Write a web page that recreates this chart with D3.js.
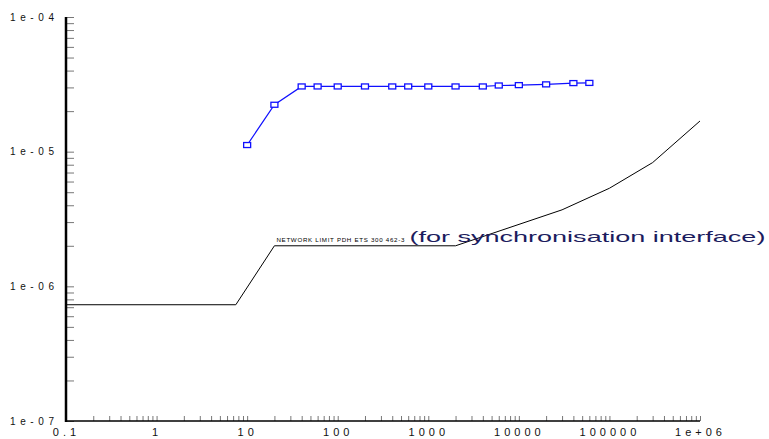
<!DOCTYPE html>
<html>
<head>
<meta charset="utf-8">
<script src="https://cdn.jsdelivr.net/npm/d3@7"></script>
<style>
  body { margin: 0; background: #fff; }
  svg { display: block; font-family: Arial, "Liberation Sans", sans-serif; }
</style>
</head>
<body>
<svg id="chart" width="769" height="439"></svg>
<script>
// network limit (black line)
var limitTau = [0.1, 7.5, 20, 2000, 30000, 100000, 300000, 1000000];
var limitMtie = [7.3e-7, 7.3e-7, 2.0e-6, 2.0e-6, 3.7e-6, 5.35e-6, 8.3e-6, 1.69e-5];

// measured series (blue squares)
var measTau = [10, 20, 40, 60, 100, 200, 400, 600, 1000, 2000, 4000, 6000, 10000, 20000, 40000, 60000];
var measMtie = [1.12e-5, 2.23e-5, 3.05e-5, 3.05e-5, 3.05e-5, 3.05e-5, 3.05e-5, 3.05e-5, 3.05e-5,
                3.05e-5, 3.05e-5, 3.1e-5, 3.12e-5, 3.16e-5, 3.23e-5, 3.24e-5];

// tick labels
var xTickValues = [0.1, 1, 10, 100, 1000, 10000, 100000, 1000000];
var xTickLabels = ["0.1", "1", "10", "100", "1000", "10000", "100000", "1e+06"];
var yTickValues = [1e-7, 1e-6, 1e-5, 1e-4];
var yTickLabels = ["1e-07", "1e-06", "1e-05", "1e-04"];

var limitLabel = "NETWORK LIMIT PDH ETS 300 462-3";
var limitNote = "(for synchronisation interface)";

var drawChart = function() {
  var svg = d3.select("#chart");
  var plotLeft = 66, plotRight = 700, plotTop = 17, plotBottom = 421;

  var x = d3.scaleLog().domain([0.1, 1e6]).range([plotLeft, plotRight]);
  var y = d3.scaleLog().domain([1e-7, 1e-4]).range([plotBottom, plotTop]);

  var labelFor = function(values, labels) {
    return function(d) {
      var i = values.findIndex(function(v) { return Math.abs(Math.log10(v) - Math.log10(d)) < 1e-6; });
      return i < 0 ? "" : labels[i];
    };
  };

  // x axis, ticks pointing up
  var xAxis = svg.append("g")
    .attr("transform", "translate(0," + plotBottom + ")")
    .call(d3.axisBottom(x)
      .tickValues(x.ticks())
      .tickSizeInner(-5).tickSizeOuter(0).tickPadding(7)
      .tickFormat(labelFor(xTickValues, xTickLabels)));
  xAxis.select(".domain").remove();
  xAxis.selectAll(".tick line").attr("stroke", "#777");
  xAxis.selectAll(".tick text")
    .attr("font-size", 11).attr("fill", "#111")
    .attr("font-family", "Arial, 'Liberation Sans', sans-serif")
    .attr("letter-spacing", 4);

  // y axis, ticks pointing right
  var yAxis = svg.append("g")
    .attr("transform", "translate(" + plotLeft + ",0)")
    .call(d3.axisLeft(y)
      .tickValues(y.ticks())
      .tickSizeInner(-8).tickSizeOuter(0).tickPadding(8)
      .tickFormat(labelFor(yTickValues, yTickLabels)));
  yAxis.select(".domain").remove();
  yAxis.selectAll(".tick line").attr("stroke", "#777");
  yAxis.selectAll(".tick text")
    .attr("font-size", 10).attr("fill", "#111")
    .attr("font-family", "Arial, 'Liberation Sans', sans-serif")
    .attr("text-anchor", "start")
    .attr("letter-spacing", 4.6)
    .attr("x", -56);

  // axis lines
  svg.append("line")
    .attr("x1", plotLeft).attr("x2", plotRight).attr("y1", plotBottom).attr("y2", plotBottom)
    .attr("stroke", "#000").attr("stroke-width", 1.5);
  svg.append("line")
    .attr("x1", plotLeft).attr("x2", plotLeft).attr("y1", plotTop).attr("y2", plotBottom + 1)
    .attr("stroke", "#000").attr("stroke-width", 2.5);

  var line = d3.line()
    .x(function(d) { return x(d[0]); })
    .y(function(d) { return y(d[1]); });

  // network limit
  svg.append("path")
    .datum(d3.zip(limitTau, limitMtie))
    .attr("d", line)
    .attr("fill", "none").attr("stroke", "#000").attr("stroke-width", 1);

  // measured
  var meas = d3.zip(measTau, measMtie);
  svg.append("path")
    .datum(meas)
    .attr("d", line)
    .attr("fill", "none").attr("stroke", "#1010ff").attr("stroke-width", 1.2);
  svg.selectAll("rect.pt")
    .data(meas)
    .enter().append("rect")
    .attr("class", "pt")
    .attr("x", function(d) { return x(d[0]) - 3.5; })
    .attr("y", function(d) { return y(d[1]) - 2.5; })
    .attr("width", 7).attr("height", 5)
    .attr("fill", "#fff").attr("stroke", "#1010ff").attr("stroke-width", 1.3);

  // annotations
  var ax = x(limitTau[2]) + 2, ay = y(limitMtie[2]) - 3.5;
  svg.append("text")
    .attr("x", ax).attr("y", ay)
    .attr("font-size", 6.2).attr("fill", "#000")
    .attr("textLength", 128).attr("lengthAdjust", "spacing")
    .text(limitLabel);
  svg.append("text")
    .attr("x", ax + 133).attr("y", ay)
    .attr("font-size", 15).attr("fill", "#1c1c5e")
    .attr("textLength", 356).attr("lengthAdjust", "spacingAndGlyphs")
    .text(limitNote);
};

drawChart();
</script>
</body>
</html>
